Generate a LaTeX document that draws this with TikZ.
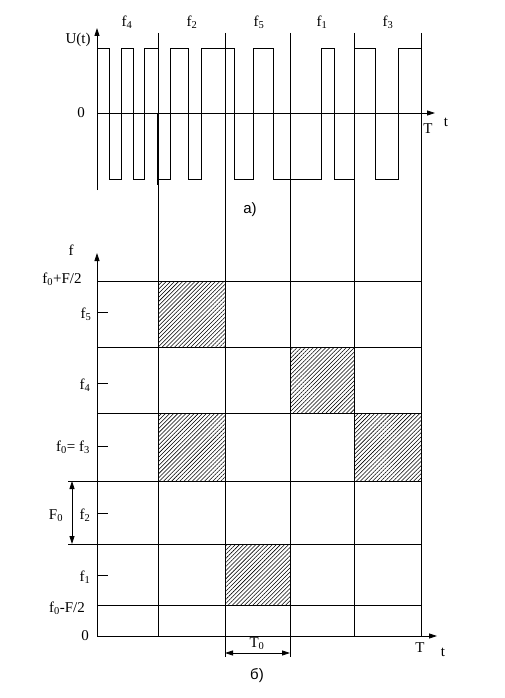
\documentclass[tikz,border=0pt]{standalone}
\usepackage{fontspec}
\setmainfont{Liberation Serif}
\newfontfamily\capfont{Liberation Sans}
\usetikzlibrary{arrows.meta,patterns.meta}
\newcommand{\fsub}[1]{f\textsubscript{#1}}
\begin{document}
\begin{tikzpicture}[x=1pt,y=-1pt,line width=.8pt,font=\fontsize{15}{17}\selectfont,
  arr/.style={-{Triangle[length=8pt,width=5pt]}},
  hatch/.style={draw,pattern={Lines[angle=45,distance=2.9pt,line width=.55pt]}}]
\useasboundingbox (0,0) rectangle (505,698);
% a) signal
\coordinate (o1) at (97,113);\coordinate (u1) at (97,28);\coordinate (ub) at (97,190);\coordinate (t1) at (435,113);
\draw[arr] (ub)--(u1);
\draw[arr] (o1)--(t1);
\draw (97,48) -| (109,179) -| (121,48) -| (133,179) -| (144,48) -| (158,179) -| (170,48) -| (188,179)
  -| (201,48) -| (234,179) -| (253,48) -| (273,179) -| (321,48) -| (334,179) -| (354,48) -| (375,179)
  -| (398,48) -- (421.5,48);
\draw[line width=1.8pt] (157.7,113)--(157.7,185);
\draw[line width=1.8pt] (421.5,82)--(421.5,113);
\node (ut) at (78,40){U(t)};
\node (z1) at (81,113){0};
\node (T1) at (428,129){T};
\node (tt1) at (446,122){t};
\foreach \x/\n in {127/4,192/2,259/5,322/1,388/3}
  \node (fa\n) at (\x,22){\fsub{\n}};
\node (a) at (250,210){\capfont а)};
% b) grid
\foreach \x/\y/\u/\v in {158/281/225/347,290/347/354/413,158/413/225/481,354/413/421/481,225/544/290/605}
  \draw[hatch] (\x,\y) rectangle (\u,\v);
\foreach \y in {281,347,413,605} \draw (97,\y)--(421.5,\y);
\foreach \y in {481,544} \draw (68,\y)--(421.5,\y);
\foreach \x in {158,354,421.5} \draw (\x,33)--(\x,636);
\foreach \x in {225,290} \draw (\x,33)--(\x,657);
\draw[line width=1.6pt] (421.5,281)--(421.5,605);
\coordinate (o2) at (97,636);\coordinate (f2) at (97,253);\coordinate (t2) at (437,636);
\draw[arr] (o2)--(f2);
\draw[arr] (o2)--(t2);
\foreach \y in {312,383,446,513,575} \draw (97,\y)--(108,\y);
\coordinate (fa) at (72,481);\coordinate (fb) at (72,544);
\draw[{Triangle[length=8pt,width=5pt]}-{Triangle[length=8pt,width=5pt]}] (fa)--(fb);
\coordinate (ta) at (225,653);\coordinate (tb) at (290,653);
\draw[{Triangle[length=8pt,width=5pt]}-{Triangle[length=8pt,width=5pt]}] (ta)--(tb);
\node (f) at (71,250){f};
\node (fmax) at (62,279){f\textsubscript{0}+F/2};
\node (f5) at (86,314){\fsub{5}};
\node (f4) at (85,385){\fsub{4}};
\node (f3) at (73,447){f\textsubscript{0}= f\textsubscript{3}};
\node (F0) at (56,516){F\textsubscript{0}};
\node (fb2) at (85,515){\fsub{2}};
\node (f1) at (85,577){\fsub{1}};
\node (fmin) at (67,608){f\textsubscript{0}-F/2};
\node (z2) at (85,636){0};
\node (T2) at (420,648){T};
\node (tt2) at (443,652){t};
\node (T0) at (257,644){T\textsubscript{0}};
\node (b) at (257,676){\capfont б)};
\end{tikzpicture}
\end{document}
